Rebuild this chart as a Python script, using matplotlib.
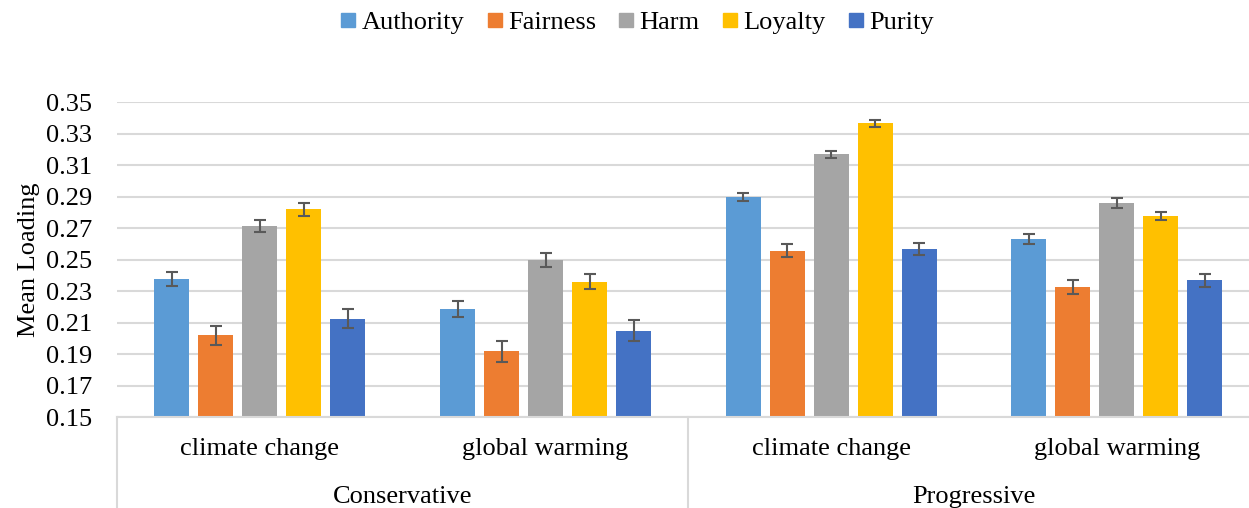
import numpy as np
import matplotlib.pyplot as plt
from matplotlib.lines import Line2D

plt.rcParams['font.family'] = ['Liberation Serif', 'DejaVu Serif']

# data
foundations = ['Authority', 'Fairness', 'Harm', 'Loyalty', 'Purity']
colors = ['#5B9BD5', '#ED7D31', '#A5A5A5', '#FFC000', '#4472C4']
terms = ['climate change', 'global warming', 'climate change', 'global warming']
groups = ['Conservative', 'Progressive']

authority = [0.2375, 0.2185, 0.2895, 0.2628]
fairness = [0.2018, 0.1916, 0.2557, 0.2328]
harm = [0.2711, 0.2495, 0.3167, 0.2859]
loyalty = [0.2818, 0.2360, 0.3364, 0.2778]
purity = [0.2123, 0.2049, 0.2567, 0.2368]

authority_err = [0.0044, 0.0049, 0.0026, 0.0031]
fairness_err = [0.0059, 0.0064, 0.0040, 0.0044]
harm_err = [0.0039, 0.0045, 0.0023, 0.0030]
loyalty_err = [0.0041, 0.0045, 0.0023, 0.0026]
purity_err = [0.0061, 0.0068, 0.0039, 0.0043]

values = [authority, fairness, harm, loyalty, purity]
errors = [authority_err, fairness_err, harm_err, loyalty_err, purity_err]

fig = plt.figure(figsize=(12.49, 5.08), dpi=100)
ax = fig.add_axes([117 / 1249, 1 - 417 / 508, 1 - 117 / 1249, (417 - 102) / 508])

x = np.arange(len(terms))
width = 0.1225
step = 0.154
for i, (name, vals, errs, c) in enumerate(zip(foundations, values, errors, colors)):
    pos = x + (i - 2) * step
    ax.bar(pos, np.array(vals) - 0.15, width, bottom=0.15, color=c, label=name, zorder=2)
    ax.errorbar(pos, vals, yerr=errs, fmt='none', ecolor='#595959',
                elinewidth=1.5, capsize=4.3, capthick=1.5, zorder=3)

ax.set_ylim(0.15, 0.35)
ax.set_yticks(np.arange(0.15, 0.351, 0.02))
ax.set_yticklabels(['%.2f' % v for v in np.arange(0.15, 0.351, 0.02)], fontsize=19)
ax.set_xlim(-0.5, -0.5 + (1249 - 117) / 285.7)
ax.set_xticks([])
ax.tick_params(axis='y', length=0, pad=18)
ax.grid(axis='y', color='#d9d9d9', linewidth=1.5, zorder=0)
for s in ['left', 'right', 'top']:
    ax.spines[s].set_visible(False)
ax.spines['bottom'].set_color('#d9d9d9')
ax.spines['bottom'].set_linewidth(1.5)
ax.set_ylabel('Mean Loading', fontsize=19, labelpad=4)

# hierarchical category labels
trans = ax.get_xaxis_transform()
for xi, t in zip(x, terms):
    ax.text(xi, -0.10, t, transform=trans, ha='center', va='center', fontsize=19)
for gi, g in enumerate(groups):
    ax.text(gi * 2 + 0.5, -0.255, g, transform=trans, ha='center', va='center',
            fontsize=19, clip_on=False)
for xs in [-0.5, 1.5]:
    ax.add_line(Line2D([xs, xs], [0, -0.4], transform=trans, color='#d9d9d9',
                       linewidth=1.5, clip_on=False))

handles = [Line2D([], [], marker='s', linestyle='none', markersize=10,
                  markerfacecolor=c, markeredgecolor=c) for c in colors]
fig.legend(handles, foundations, loc='center', bbox_to_anchor=(0.509, 1 - 22 / 508),
           ncol=5, frameon=False, fontsize=19, handletextpad=0.1, columnspacing=0.75,
           handlelength=0.8)

fig.savefig('out.png', dpi=100)
